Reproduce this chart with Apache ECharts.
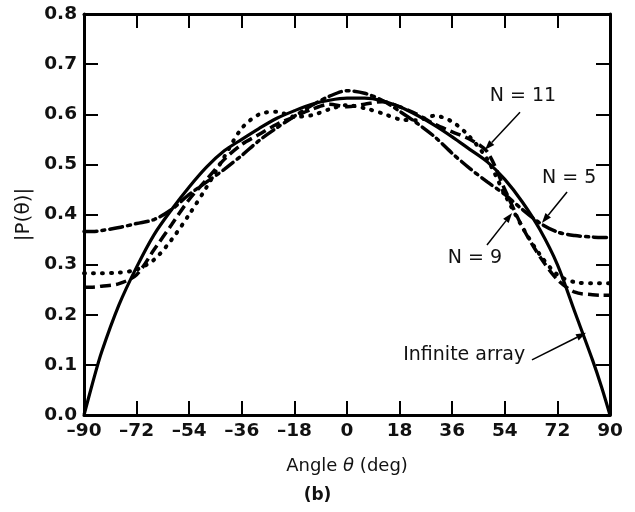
<!DOCTYPE html>
<html><head><meta charset="utf-8">
<script src="https://cdn.jsdelivr.net/npm/echarts@6/dist/echarts.min.js"></script>
<style>html,body{margin:0;padding:0;background:#fff}#c{width:635px;height:512px}</style>
</head><body><div id="c"></div>
<script>
// ---- data ----
const angles = [-90,-87,-84,-78,-72,-66,-60,-54,-48,-42,-36,-30,-24,-18,-12,-6,0,6,12,18,24,30,36,42,48,54,60,66,72,78,84,87,90];
const infiniteArray = [0,0.065,0.125,0.22,0.295,0.36,0.41,0.455,0.495,0.527,0.55,0.572,0.592,0.607,0.62,0.628,0.632,0.632,0.627,0.615,0.598,0.578,0.555,0.53,0.505,0.47,0.425,0.37,0.30,0.205,0.11,0.058,0];
const n5 = [0.366,0.366,0.368,0.374,0.382,0.39,0.41,0.44,0.465,0.49,0.518,0.548,0.573,0.596,0.618,0.636,0.647,0.642,0.628,0.606,0.582,0.555,0.522,0.492,0.465,0.44,0.41,0.383,0.365,0.358,0.355,0.354,0.354];
const n9 = [0.283,0.283,0.283,0.284,0.29,0.31,0.35,0.40,0.455,0.515,0.572,0.6,0.605,0.595,0.598,0.61,0.618,0.612,0.602,0.59,0.588,0.597,0.585,0.555,0.51,0.44,0.375,0.32,0.28,0.265,0.263,0.263,0.263];
const n11 = [0.255,0.255,0.257,0.262,0.28,0.33,0.38,0.43,0.47,0.51,0.54,0.56,0.58,0.595,0.61,0.62,0.615,0.62,0.625,0.615,0.6,0.58,0.565,0.55,0.525,0.45,0.375,0.316,0.27,0.245,0.24,0.239,0.239];
const xTickStep = 18;
const yTickStep = 0.1;
const seriesNames = ['Infinite array','N = 5','N = 9','N = 11'];
// annotations: [text, textAnchor(data), arrowStart(data), arrowTip(data)]
const notes = [
  ['N = 11', [60.2,0.636], [59.2,0.604], [47.2,0.529]],
  ['N = 5', [76.0,0.473], [75.3,0.445], [66.7,0.383]],
  ['N = 9', [43.8,0.313], [47.9,0.339], [56.5,0.403]],
  ['Infinite array', [40.1,0.12], [63.3,0.110], [81.8,0.164]]
];

const FONT = '"DejaVu Sans", Arial, Helvetica, sans-serif';
const pairs = arr => angles.map((a,i)=>[a,arr[i]]);
const chart = echarts.init(document.getElementById('c'));
const axisCommon = () => ({
  axisLine:{show:true,onZero:false,lineStyle:{color:'#000',width:3}},
  axisTick:{show:true,inside:true,length:14,lineStyle:{color:'#000',width:2}},
  splitLine:{show:false}
});
const tickLabel = {fontFamily:FONT,fontSize:18.5,fontWeight:'bold',color:'#111'};
const lineBase = {type:'line',showSymbol:false,symbol:'none',smooth:0.3,animation:false};
chart.setOption({
  backgroundColor:'#fff',
  animation:false,
  grid:{left:84,right:25,top:14,bottom:97},
  xAxis:[
    Object.assign({type:'value',min:-90,max:90,interval:xTickStep,position:'bottom',
      name:'{a|Angle }{i|θ}{a| (deg)}',nameLocation:'middle',nameGap:42,
      nameTextStyle:{rich:{a:{fontFamily:FONT,fontSize:18,color:'#111'},i:{fontFamily:FONT,fontSize:18,fontStyle:'italic',color:'#111'}}},
      axisLabel:Object.assign({margin:7,formatter:v=>String(v).replace('-','\u2013')},tickLabel)},axisCommon()),
    Object.assign({type:'value',min:-90,max:90,interval:xTickStep,position:'top',axisLabel:{show:false}},axisCommon())
  ],
  yAxis:[
    Object.assign({type:'value',min:0,max:0.8,interval:yTickStep,position:'left',
      name:'|P(θ)|',nameLocation:'middle',nameGap:50,nameRotate:90,
      nameTextStyle:{fontFamily:FONT,fontSize:20,color:'#111'},
      axisLabel:Object.assign({margin:7,formatter:v=>v.toFixed(1)},tickLabel)},axisCommon()),
    Object.assign({type:'value',min:0,max:0.8,interval:yTickStep,position:'right',axisLabel:{show:false}},axisCommon())
  ],
  series:[
    Object.assign({},lineBase,{name:seriesNames[0],data:pairs(infiniteArray),z:5,lineStyle:{color:'#000',width:3.2,type:'solid'}}),
    Object.assign({},lineBase,{name:seriesNames[1],data:pairs(n5),lineStyle:{color:'#000',width:3.5,type:[13,5,3,5],cap:'round'}}),
    Object.assign({},lineBase,{name:seriesNames[2],data:pairs(n9),lineStyle:{color:'#000',width:4,type:[1,8],cap:'round'}}),
    Object.assign({},lineBase,{name:seriesNames[3],data:pairs(n11),lineStyle:{color:'#000',width:3.5,type:[11,5],cap:'butt'}})
  ]
});

const px = p => chart.convertToPixel({xAxisIndex:0,yAxisIndex:0}, p);
const g = [];
notes.forEach(([txt,tp,s,t])=>{
  const T = px(tp), S = px(s), E = px(t);
  g.push({type:'text',x:T[0],y:T[1],style:{text:txt,font:'19px '+FONT,fill:'#111',textAlign:'center',textVerticalAlign:'middle'}});
  const dx=E[0]-S[0], dy=E[1]-S[1], L=Math.hypot(dx,dy), ux=dx/L, uy=dy/L;
  const hl=10, hw=3.5;
  const bx=E[0]-ux*hl, by=E[1]-uy*hl;
  g.push({type:'line',shape:{x1:S[0],y1:S[1],x2:bx,y2:by},style:{stroke:'#000',lineWidth:1.5}});
  g.push({type:'polygon',shape:{points:[[E[0],E[1]],[bx-uy*hw,by+ux*hw],[bx+uy*hw,by-ux*hw]]},style:{fill:'#000'}});
});
g.push({type:'text',left:'center',top:487,style:{text:'(b)',font:'bold 17px '+FONT,fill:'#111'}});
chart.setOption({graphic:g});
</script></body></html>
